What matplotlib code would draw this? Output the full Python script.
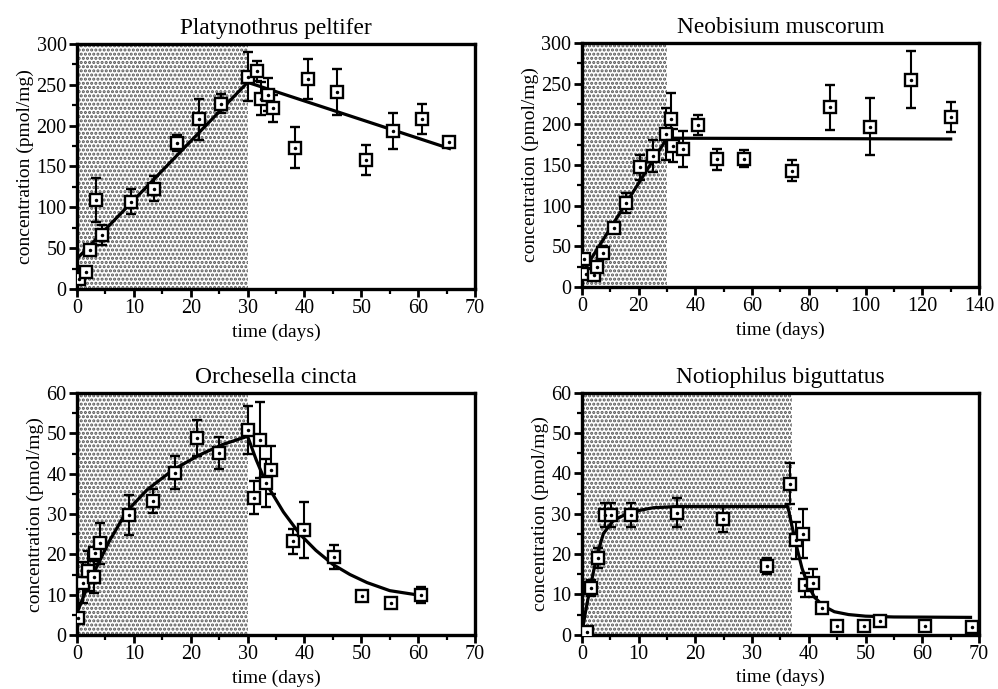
import matplotlib
matplotlib.use("Agg")
import matplotlib.pyplot as plt
from matplotlib.ticker import MultipleLocator

plt.rcParams.update({
    "font.family": "serif",
    "font.serif": ["Liberation Serif", "DejaVu Serif"],
    "font.size": 14,
    "hatch.linewidth": 1.5,
})

# ---- Platynothrus peltifer ----
pp_t = [0.4, 1.6, 2.2, 3.3, 4.4, 9.5, 13.5, 17.5, 21.5, 25.4, 30.1, 31.6, 32.3, 33.5, 34.5,
        38.3, 40.7, 45.7, 50.8, 55.5, 60.6, 65.5]
pp_c = [12, 21, 48, 109, 66, 107, 123, 179, 208, 227, 260, 267, 233, 238, 221,
        173, 257, 241, 158, 193, 208, 180]
pp_err = [4, 4, 6, 27, 12, 15, 15, 10, 25, 12, 30, 12, 20, 20, 16,
          25, 25, 28, 18, 22, 18, 6]
pp_fit_t = [0, 30, 65.5]
pp_fit_c = [37, 253, 172]

# ---- Neobisium muscorum ----
nm_t = [0.8, 1.6, 4.3, 5.5, 7.6, 11.4, 15.5, 20.6, 25.1, 29.6, 31.4, 32.3, 35.5, 40.8,
        47.8, 57.2, 74, 87.5, 101.6, 116, 130]
nm_c = [34, 16, 15, 25, 42, 73, 103, 147, 161, 188, 206, 174, 170, 199,
        157, 158, 143, 221, 197, 255, 209]
nm_err = [4, 4, 4, 6, 8, 6, 12, 15, 20, 32, 32, 20, 22, 12,
          13, 10, 13, 28, 35, 35, 18]
nm_fit_t = [1, 30, 130]
nm_fit_c = [22, 183, 182]

# ---- Orchesella cincta ----
oc_t = [0.2, 1.1, 1.9, 3.0, 3.1, 4.0, 9.2, 13.3, 17.2, 21.1, 25.0, 30.1, 31.2, 32.2, 33.3, 34.2,
        38.0, 39.9, 45.2, 50.1, 55.3, 60.5]
oc_c = [4.2, 13, 15.8, 14.3, 20.3, 22.7, 29.8, 33.2, 40.3, 48.8, 45.1, 50.9, 34.1, 48.4, 37.7, 40.9,
        23.2, 26.1, 19.3, 9.6, 7.9, 10]
oc_err = [1, 5, 5, 4, 1, 5, 5, 3, 4, 4.5, 4, 6, 4, 9.5, 6, 6,
          3, 7, 3, 1.2, 0.5, 2]
oc_fit_t = [0, 1.5, 2.9, 4.4, 5.8, 8.7, 12.3, 16.9, 21.6, 25.5, 30,
            31.5, 33.3, 36.3, 39.2, 42, 45, 48, 51, 55, 60.5]
oc_fit_c = [5.5, 10.8, 15.3, 19.6, 23.6, 30.6, 36, 41, 44.7, 47.2, 49.3,
            43.5, 37.5, 30.5, 25, 21, 17.5, 15, 13, 11, 9.8]

# ---- Notiophilus biguttatus ----
nb_t = [0.9, 1.6, 2.8, 4.1, 5.1, 8.6, 16.7, 24.8, 32.7, 36.7, 37.7, 38.9, 39.3, 40.8,
        42.3, 44.9, 49.7, 52.6, 60.5, 68.8]
nb_c = [0.6, 11.5, 19.1, 29.6, 29.6, 29.6, 30.3, 28.6, 17.1, 37.5, 23.4, 25.1, 12.3, 12.9,
        6.7, 2.1, 2.1, 3.4, 2.2, 1.8]
nb_err = [0.3, 2, 2.5, 3, 3, 3, 3.5, 3, 2, 5, 4.5, 6, 3, 3.5,
          1, 0.5, 0.5, 1.2, 0.5, 0.5]
nb_fit_t = [0.2, 0.6, 1.5, 2.6, 3.8, 5.6, 8.5, 12.6, 16.8, 36.3,
            37.1, 38.0, 38.8, 39.8, 41.0, 42.5, 44.5, 47, 50, 55, 68.5]
nb_fit_c = [2, 5.3, 11.9, 19.3, 25.1, 28.4, 30.4, 31.5, 31.8, 31.8,
            26.5, 21, 16.5, 12.5, 9.3, 7.2, 5.7, 5.0, 4.6, 4.4, 4.3]

panels = [
    ("Platynothrus peltifer", pp_t, pp_c, pp_err, pp_fit_t, pp_fit_c, 30, (70, 10, 5), (300, 50, 25)),
    ("Neobisium muscorum", nm_t, nm_c, nm_err, nm_fit_t, nm_fit_c, 30, (140, 20, 10), (300, 50, 25)),
    ("Orchesella cincta", oc_t, oc_c, oc_err, oc_fit_t, oc_fit_c, 30, (70, 10, 5), (60, 10, 5)),
    ("Notiophilus biguttatus", nb_t, nb_c, nb_err, nb_fit_t, nb_fit_c, 37, (70, 10, 5), (60, 10, 5)),
]

# axes boxes in figure fractions (left, bottom, width, height)
boxes = [
    (0.0772, 0.5806, 0.3988, 0.3556),
    (0.5830, 0.5835, 0.3980, 0.3540),
    (0.0772, 0.0784, 0.3988, 0.3510),
    (0.5830, 0.0788, 0.3980, 0.3510),
]

fig = plt.figure(figsize=(9.98, 6.89), dpi=100)

for (title, t, c, err, ft, fc, expo, xl, yl), box in zip(panels, boxes):
    ax = fig.add_axes(box)
    # exposure period, stippled
    ax.axvspan(0, expo, facecolor="white", edgecolor="#555555", hatch="....", linewidth=0, zorder=0)
    ax.plot(ft, fc, color="black", lw=2.3, zorder=2)
    ax.errorbar(t, c, yerr=err, fmt="s", ms=8, mfc="white", mec="black", mew=1.7,
                ecolor="black", elinewidth=1.5, capsize=3.5, capthick=1.5, zorder=3)
    ax.plot(t, c, ".", color="black", ms=3, zorder=4)

    ax.set_xlim(0, xl[0])
    ax.set_ylim(0, yl[0])
    ax.xaxis.set_major_locator(MultipleLocator(xl[1]))
    ax.xaxis.set_minor_locator(MultipleLocator(xl[2]))
    ax.yaxis.set_major_locator(MultipleLocator(yl[1]))
    ax.yaxis.set_minor_locator(MultipleLocator(yl[2]))
    ax.tick_params(which="major", direction="out", length=6, width=2, pad=1.5, labelsize=14.5)
    ax.tick_params(which="minor", direction="out", length=3.5, width=1.6)
    ax.tick_params(top=False, right=False)
    for s in ax.spines.values():
        s.set_linewidth(2.4)

    ax.set_title(title, fontsize=16.8, pad=7)
    ax.set_xlabel("time (days)", fontsize=14, labelpad=3.5)
    ax.set_ylabel("concentration (pmol/mg)", fontsize=14, labelpad=2)

fig.savefig("out.png", dpi=100)
